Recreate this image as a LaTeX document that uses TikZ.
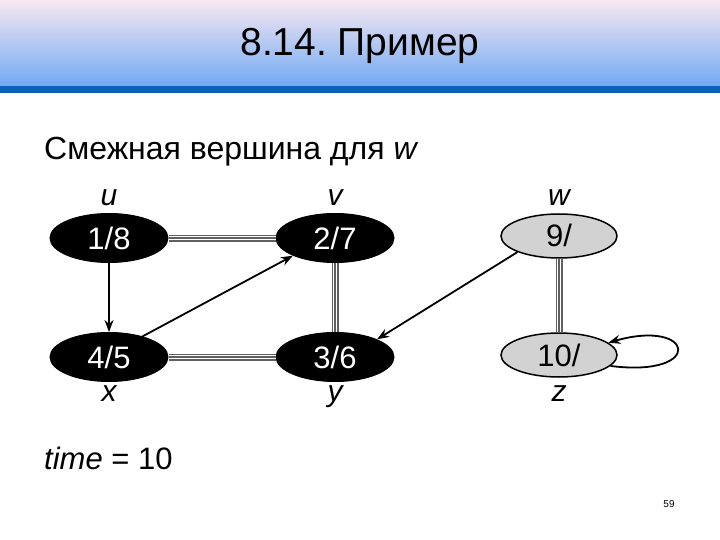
\documentclass[tikz,border=0pt]{standalone}
\usepackage{fontspec}
\setmainfont{Liberation Sans}
\usetikzlibrary{shapes.geometric,arrows.meta}
\definecolor{topc}{HTML}{F8E8F2}
\definecolor{botc}{HTML}{6EA8F2}
\definecolor{barc}{HTML}{0A62B8}
\frenchspacing
\begin{document}
\begin{tikzpicture}[x=1pt,y=-1pt,
  vblack/.style={ellipse,fill=black,draw=black,line width=1pt,minimum width=118pt,minimum height=49pt,inner sep=0pt,text=white,text height=22pt,text depth=0pt,font=\fontsize{31}{34}\selectfont},
  vgray/.style={ellipse,fill=gray!35,draw=black,line width=1.5pt,minimum width=116pt,minimum height=44pt,inner sep=0pt,text=black,text height=22pt,text depth=0pt,font=\fontsize{31}{34}\selectfont},
  vlabel/.style={font=\fontsize{30}{32}\selectfont\itshape,inner sep=0pt,text height=15pt,text depth=0pt},
  treeA/.style={draw=gray!75!black,line width=7pt},
  treeB/.style={draw=white,line width=4pt},
  treeC/.style={draw=gray!75!black,line width=1.6pt},
  arr/.style={draw=black,line width=1.8pt,-{Stealth[length=12pt,width=9pt]}}
]
\useasboundingbox (0,0) rectangle (720,540);
\fill[white] (0,0) rectangle (720,540);
\shade[top color=topc, bottom color=botc] (0,0) rectangle (720,88);
\fill[barc] (0,86) rectangle (720,93);
\node[font=\fontsize{39}{42}\selectfont] (title) at (360,46) {8.14. Пример};
\node[font=\fontsize{32}{34}\selectfont,anchor=west,inner sep=0pt] (sub) at (44,152) {Смежная вершина для \textit{w}};

\node[vblack] (u) at (109,238) {1/8};
\node[vblack] (v) at (335,238) {2/7};
\node[vgray]  (w) at (559,236) {9/};
\node[vblack] (x) at (109,357) {4/5};
\node[vblack] (y) at (335,357) {3/6};
\node[vgray]  (z) at (559,355) {10/};

\node[vlabel] (lu) at (109,198) {u};
\node[vlabel] (lv) at (335,198) {v};
\node[vlabel] (lw) at (559,198) {w};
\node[vlabel] (lx) at (109,394) {x};
\node[vlabel] (ly) at (335,394) {y};
\node[vlabel] (lz) at (559,394) {z};

\foreach \a/\b in {u/v,x/y,v/y,w/z}{
  \draw[treeA] (\a) -- (\b);
  \draw[treeB] (\a) -- (\b);
  \draw[treeC] (\a) -- (\b);
}
\draw[arr] (u) -- (x);
\path (x.north east) ++(-14,0) coordinate (xs);
\draw[arr] (xs) -- (v.south west);
\draw[arr] (w.south west) -- (y.north east);
\draw[arr] (z.-12) .. controls (705,378) and (695,318) .. (z.14);

\node[font=\fontsize{31}{34}\selectfont,anchor=west,inner sep=0pt] (time) at (44,458) {\textit{time} = 10};
\node[font=\fontsize{10}{11}\selectfont] (pg) at (669,504) {59};
\end{tikzpicture}
\end{document}
